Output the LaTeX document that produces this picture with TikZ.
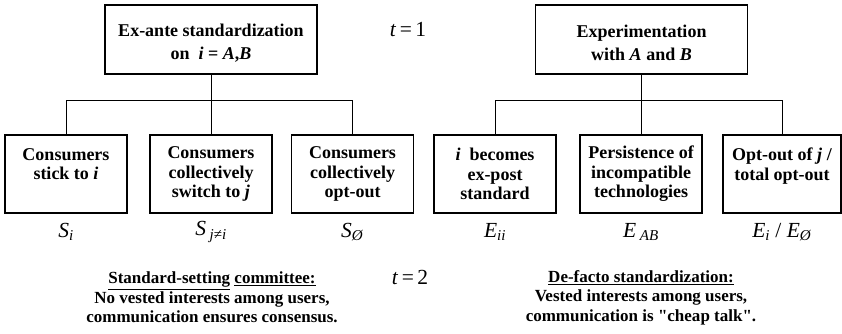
\documentclass[tikz,border=0pt]{standalone}
\usepackage{fontspec}
\setmainfont{Liberation Serif}[Ligatures=TeXOff]
\newcommand{\boxfnt}{\fontsize{18}{19.5}\selectfont\bfseries}
\newcommand{\topfnt}{\fontsize{18}{23}\selectfont\bfseries}
\newcommand{\labfnt}{\fontsize{21.5}{23}\selectfont}
\newcommand{\notefnt}{\fontsize{17}{19.5}\selectfont\bfseries}
\begin{document}
\begin{tikzpicture}[x=1pt,y=-1pt,
  box/.style={draw, line width=1.2pt, minimum width=122pt, minimum height=78pt, inner sep=0pt, align=center, font=\boxfnt},
  topbox/.style={draw, line width=1.2pt, minimum width=212pt, minimum height=69pt, inner sep=0pt},
  toptext/.style={align=center, font=\topfnt, inner sep=0pt},
  conn/.style={line width=0.9pt},
  lab/.style={font=\labfnt, inner sep=0pt},
  note/.style={align=center, font=\notefnt, inner sep=0pt}]
\useasboundingbox (0,0) rectangle (842,333);

% top boxes
\node[topbox] (T1) at (211,39.5) {};
\node[toptext] (T1t) at (211,43) {Ex-ante standardization\\on \ \textit{i} = \textit{A},\textit{B}};
\node[topbox] (T2) at (641.5,39.5) {};
\node[toptext] (T2t) at (641.5,43) {Experimentation\\with \textit{A} and \textit{B}};

% bottom boxes
\node[box] (c1) at (66,174) {Consumers\\stick to \textit{i}\\\mbox{}};
\node[box] (c2) at (211,174) {Consumers\\collectively\\switch to \textit{j}};
\node[box] (c3) at (352.5,174) {Consumers\\collectively\\opt-out};
\node[box] (c4) at (495,174) {\textit{i} \ becomes\\ex-post\\standard};
\node[box] (c5) at (641,174) {Persistence of\\incompatible\\technologies};
\node[box, minimum width=118pt] (c6) at (782,174) {Opt-out of \textit{j} /\\total opt-out\\\mbox{}};

% connectors
\coordinate (barL) at (0,100);
\draw[conn] (T1.south) -- (T1.south |- barL);
\draw[conn] (c1.north) -- (c1.north |- barL) -- (c3.north |- barL) -- (c3.north);
\draw[conn] (c2.north) -- (c2.north |- barL);
\draw[conn] (T2.south) -- (T2.south |- barL);
\draw[conn] (c4.north) -- (c4.north |- barL) -- (c6.north |- barL) -- (c6.north);
\draw[conn] (c5.north) -- (c5.north |- barL);

% labels
\node[lab] (s1) at (66,232) {\textit{S}\textsubscript{\textit{i}}};
\node[lab] (s2) at (211,232) {\textit{S}\,\textsubscript{\textit{j}≠\textit{i}}};
\node[lab] (s3) at (352.5,232) {\textit{S}\textsubscript{\textit{Ø}}};
\node[lab] (e1) at (495,232) {\textit{E}\textsubscript{\textit{ii}}};
\node[lab] (e2) at (641,232) {\textit{E}\,\textsubscript{\textit{AB}}};
\node[lab] (e3) at (782,232) {\textit{E}\textsubscript{\textit{i}} / \textit{E}\textsubscript{\textit{Ø}}};

\node[lab] (t1) at (408,30) {\textit{t}\,=\,1};
\node[lab] (t2) at (410,277) {\textit{t}\,=\,2};

% notes
\node[note] (n1) at (212,297.5) {\underline{Standard-setting} \underline{committee:}\\No vested interests among users,\\communication ensures consensus.};
\node[note] (n2) at (641,297.5) {\underline{De-facto standardization:}\\Vested interests among users,\\communication is "cheap talk".};
\end{tikzpicture}
\end{document}
